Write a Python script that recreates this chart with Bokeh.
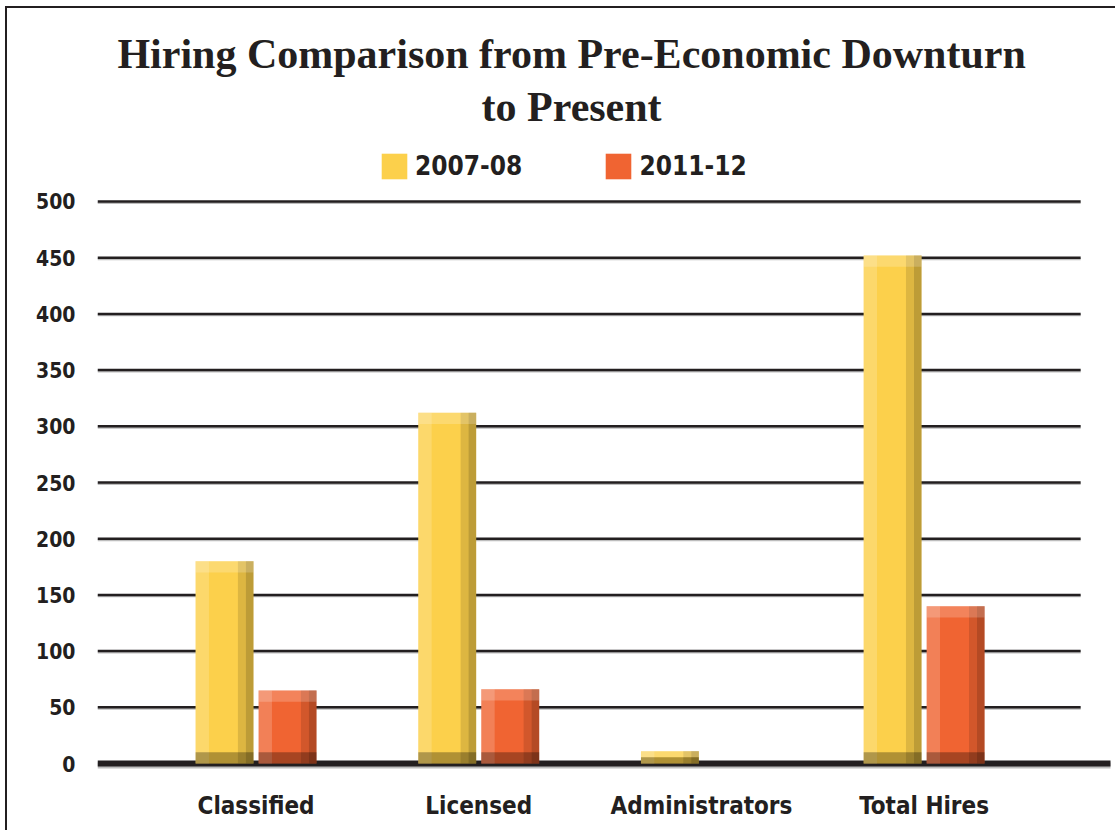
from bokeh.plotting import figure
from bokeh.models import Range1d, FixedTicker, Label, Legend, LegendItem, ColumnDataSource
from bokeh.embed import file_html
from bokeh.resources import INLINE

# ---- data ----
categories = ["Classified", "Licensed", "Administrators", "Total Hires"]
series_names = ["2007-08", "2011-12"]
hires_2007_08 = [180, 312, 11, 452]
hires_2011_12 = [65, 66, 0, 140]
y_ticks = [0, 50, 100, 150, 200, 250, 300, 350, 400, 450, 500]
title_lines = ["Hiring Comparison from Pre-Economic Downturn", "to Present"]

YELLOW = "#FCD04B"
ORANGE = "#F06432"
INK = "#231F20"
COND = "'DejaVu Sans Condensed', 'DejaVu Sans', sans-serif"
SERIF = "'Liberation Serif', 'DejaVu Serif', serif"

p = figure(width=1110, height=824, output_backend="svg", toolbar_location=None,
           x_range=Range1d(-0.712, 3.837), y_range=Range1d(-8, 671.7),
           min_border_left=90, min_border_right=7, min_border_top=0, min_border_bottom=60,
           styles={"border-top": "2px solid #231f20", "border-left": "2px solid #231f20",
                   "margin-left": "5px", "margin-top": "6px"})
p.outline_line_color = None
p.background_fill_color = "white"
p.border_fill_color = "white"
p.xgrid.visible = False
p.ygrid.visible = False

# gridlines (shadow + line), excluding zero
grid_vals = [v for v in y_ticks if v > 0]
p.segment(x0=[-0.712] * len(grid_vals), x1=[3.703] * len(grid_vals),
          y0=[v - 1.3 for v in grid_vals], y1=[v - 1.3 for v in grid_vals],
          line_color="#BDBDBD", line_width=2)
p.segment(x0=[-0.712] * len(grid_vals), x1=[3.703] * len(grid_vals),
          y0=grid_vals, y1=grid_vals, line_color=INK, line_width=2.5)
# zero baseline
p.segment(x0=[-0.712], x1=[3.9], y0=[-1.8], y1=[-1.8], line_color="#BDBDBD", line_width=6)
p.segment(x0=[-0.712], x1=[3.9], y0=[0], y1=[0], line_color=INK, line_width=6)

xs = list(range(len(categories)))
off = 0.1415
w = 0.26


def draw_series(vals, dx, color):
    pos = [x + dx for x in xs]
    src = ColumnDataSource(dict(x=pos, top=vals))
    r = p.vbar(x="x", top="top", bottom=0, width=w, source=src,
               fill_color=color, line_color=None)
    # bevel shading overlays
    p.vbar(x=[x - w / 2 + 0.03 for x in pos], top=vals, bottom=0, width=0.06,
           fill_color="white", fill_alpha=0.18, line_color=None)
    p.vbar(x=[x + w / 2 - 0.035 for x in pos], top=vals, bottom=0, width=0.07,
           fill_color="black", fill_alpha=0.12, line_color=None)
    p.vbar(x=[x + w / 2 - 0.017 for x in pos], top=vals, bottom=0, width=0.034,
           fill_color="black", fill_alpha=0.14, line_color=None)
    cap = [min(10, v / 2) for v in vals]
    p.vbar(x=pos, top=vals, bottom=[v - c for v, c in zip(vals, cap)], width=w,
           fill_color="white", fill_alpha=0.2, line_color=None)
    p.vbar(x=pos, top=cap, bottom=0, width=w,
           fill_color="black", fill_alpha=0.3, line_color=None)
    return r


r1 = draw_series(hires_2007_08, -off, YELLOW)
r2 = draw_series(hires_2011_12, off, ORANGE)

# axes
p.yaxis.ticker = FixedTicker(ticks=y_ticks)
p.yaxis.axis_line_color = None
p.yaxis.major_tick_line_color = None
p.yaxis.minor_tick_line_color = None
p.yaxis.major_label_standoff = 16
p.yaxis.major_label_text_font = COND
p.yaxis.major_label_text_font_style = "bold"
p.yaxis.major_label_text_font_size = "21px"
p.yaxis.major_label_text_color = INK

p.xaxis.ticker = FixedTicker(ticks=xs)
p.xaxis.major_label_overrides = {i: c for i, c in enumerate(categories)}
p.xaxis.axis_line_color = None
p.xaxis.major_tick_line_color = None
p.xaxis.minor_tick_line_color = None
p.xaxis.major_label_standoff = 13
p.xaxis.major_label_text_font = COND
p.xaxis.major_label_text_font_style = "bold"
p.xaxis.major_label_text_font_size = "24px"
p.xaxis.major_label_text_color = INK

# title
for txt, yv in zip(title_lines, [631, 584]):
    p.add_layout(Label(x=1.417, y=yv, text=txt, text_align="center", text_baseline="alphabetic",
                       text_font=SERIF, text_font_style="bold", text_font_size="42px",
                       text_color=INK))

# legend
legend = Legend(items=[LegendItem(label=series_names[0], renderers=[r1]),
                       LegendItem(label=series_names[1], renderers=[r2])],
                orientation="horizontal", location=(281, 590),
                glyph_width=32, glyph_height=32, label_standoff=5, spacing=80,
                padding=0, margin=0, border_line_color=None, background_fill_alpha=0,
                label_text_font=COND, label_text_font_style="bold",
                label_text_font_size="26px", label_text_color=INK)
p.add_layout(legend, "center")

open("out.html", "w").write(file_html(p, INLINE))
